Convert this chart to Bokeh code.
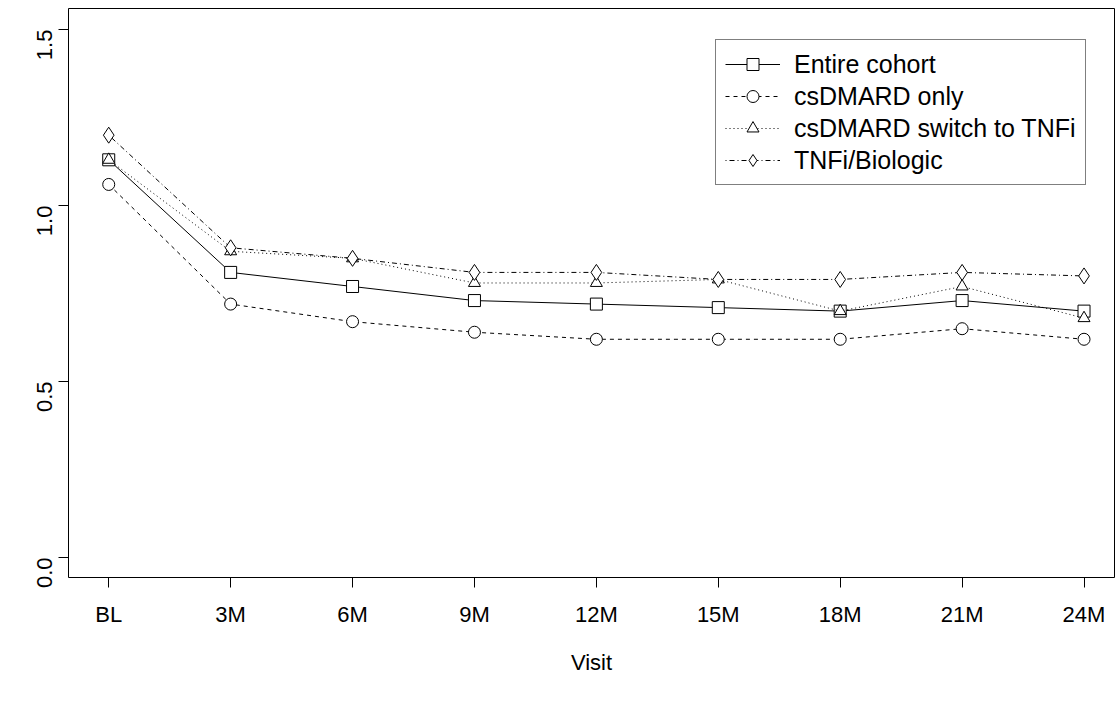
import math
from bokeh.plotting import figure
from bokeh.models import FixedTicker, Legend, LegendItem
from bokeh.embed import file_html
from bokeh.resources import INLINE

visits = ["BL", "3M", "6M", "9M", "12M", "15M", "18M", "21M", "24M"]
entire = [1.13, 0.81, 0.77, 0.73, 0.72, 0.71, 0.70, 0.73, 0.70]
csdmard = [1.06, 0.72, 0.67, 0.64, 0.62, 0.62, 0.62, 0.65, 0.62]
switch = [1.13, 0.87, 0.85, 0.78, 0.78, 0.79, 0.70, 0.77, 0.68]
tnfi = [1.20, 0.88, 0.85, 0.81, 0.81, 0.79, 0.79, 0.81, 0.80]

FONT = "Liberation Sans"
xs = list(range(len(visits)))
p = figure(frame_width=1046, frame_height=569, output_backend="svg", toolbar_location=None,
           x_range=(-0.33, 8.25), y_range=(-0.057, 1.56),
           min_border_left=68, min_border_right=1, min_border_top=8, min_border_bottom=125)
p.xgrid.visible = False
p.ygrid.visible = False
p.outline_line_color = "black"
p.outline_line_width = 1
p.background_fill_color = "white"

p.xaxis.ticker = FixedTicker(ticks=xs)
p.xaxis.major_label_overrides = {i: v for i, v in enumerate(visits)}
p.yaxis.ticker = FixedTicker(ticks=[0.0, 0.5, 1.0, 1.5])
p.yaxis.major_label_overrides = {0.0: "0.0", 0.5: "0.5", 1.0: "1.0", 1.5: "1.5"}
p.yaxis.major_label_orientation = math.pi / 2
for ax in (p.xaxis, p.yaxis):
    ax.axis_line_color = None
    ax.minor_tick_line_color = None
    ax.major_tick_out = 10
    ax.major_tick_in = 0
    ax.major_tick_line_color = "black"
    ax.major_label_text_font = FONT
    ax.major_label_text_font_size = "22px"
    ax.major_label_text_color = "black"
    ax.major_label_standoff = 14
p.xaxis.axis_label = "Visit"
p.xaxis.axis_label_text_font = FONT
p.xaxis.axis_label_text_font_size = "22px"
p.xaxis.axis_label_text_font_style = "normal"
p.xaxis.axis_label_text_color = "black"
p.xaxis.axis_label_standoff = 20

series = [
    ("Entire cohort", entire, "solid", "square"),
    ("csDMARD only", csdmard, "4 4", "circle"),
    ("csDMARD switch to TNFi", switch, "1 3", "triangle"),
    ("TNFi/Biologic", tnfi, "1 3 5 3", "diamond"),
]
items = []
for name, ys, dash, mk in series:
    l = p.line(xs, ys, line_color="black", line_width=1, line_dash=dash)
    sz = 16 if mk == "diamond" else 12
    m = p.scatter(xs, ys, marker=mk, size=sz, fill_color="white", line_color="black", line_width=1)
    items.append(LegendItem(label=name, renderers=[l, m]))

leg = Legend(items=items, location=(647, 392), border_line_color="black",
             label_text_font=FONT, label_text_font_size="25px", label_text_color="black",
             glyph_width=55, glyph_height=30, label_standoff=14, spacing=2, padding=9,
             margin=0, background_fill_alpha=1)
p.add_layout(leg, "center")

open("out.html", "w").write(file_html(p, INLINE))
